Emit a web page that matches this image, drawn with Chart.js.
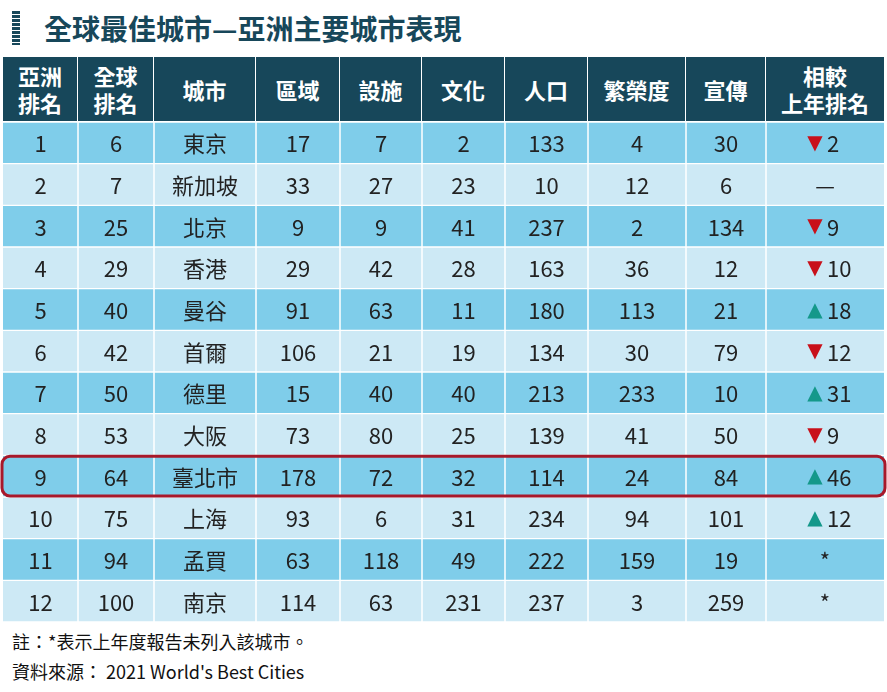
<!DOCTYPE html>
<html><head><meta charset="utf-8">
<script src="https://cdn.jsdelivr.net/npm/chart.js@4"></script>
<style>
body{margin:0;width:887px;height:692px;background:#fff;font-family:"Noto Sans CJK TC","Noto Sans",sans-serif;position:relative;overflow:hidden}
#title{position:absolute;left:12px;top:8px;height:40px;display:flex;align-items:center;font-size:28px;font-weight:bold;color:#17475a}
#title span.bar{display:inline-block;width:8px;height:34px;margin-right:24px;background:repeating-linear-gradient(#17475a 0 3px,#fff 3px 4px)}
#head{position:absolute;left:3px;top:57px;width:881px;height:64px;background:#17475a;display:flex;color:#fff;font-size:22px;font-weight:bold}
#head div{display:flex;align-items:center;justify-content:center;text-align:center;line-height:27px;border-right:1px solid #fff;box-sizing:border-box}
#head div:last-child{border-right:none}
#wrap{position:absolute;left:0;top:122px;width:887px;height:500px}
#foot{position:absolute;left:12px;top:626px;font-size:18px;color:#111;line-height:30px}
</style></head><body>
<div id="title"><span class="bar"></span>全球最佳城市—亞洲主要城市表現</div>
<div id="head"></div>
<div id="wrap"><canvas id="c"></canvas></div>
<div id="foot">註：*表示上年度報告未列入該城市。<br>資料來源： 2021 World's Best Cities</div>
<script>
const headers = ['亞洲<br>排名', '全球<br>排名', '城市', '區域', '設施', '文化', '人口', '繁榮度', '宣傳', '相較<br>上年排名'];
const edges = [3, 78, 154, 256, 340, 422, 505, 588, 686, 766, 884];
const asiaRank = [1, 2, 3, 4, 5, 6, 7, 8, 9, 10, 11, 12];
const globalRank = [6, 7, 25, 29, 40, 42, 50, 53, 64, 75, 94, 100];
const cities = ['東京', '新加坡', '北京', '香港', '曼谷', '首爾', '德里', '大阪', '臺北市', '上海', '孟買', '南京'];
const region = [17, 33, 9, 29, 91, 106, 15, 73, 178, 93, 63, 114];
const facilities = [7, 27, 9, 42, 63, 21, 40, 80, 72, 6, 118, 63];
const culture = [2, 23, 41, 28, 11, 19, 40, 25, 32, 31, 49, 231];
const population = [133, 10, 237, 163, 180, 134, 213, 139, 114, 234, 222, 237];
const prosperity = [4, 12, 2, 36, 113, 30, 233, 41, 24, 94, 159, 3];
const promotion = [30, 6, 134, 12, 21, 79, 10, 50, 84, 101, 19, 259];
const change = ['▼2', '—', '▼9', '▼10', '▲18', '▼12', '▲31', '▼9', '▲46', '▲12', '*', '*'];
const highlightRow = 8;

const head = document.getElementById('head');
headers.forEach((h, i) => {
    const d = document.createElement('div');
    d.style.width = (edges[i + 1] - edges[i]) + 'px';
    d.innerHTML = h;
    head.appendChild(d);
});

const columns = [asiaRank, globalRank, cities, region, facilities, culture, population, prosperity, promotion, change];

const tablePlugin = {
    id: 'tableText',
    afterDatasetsDraw(chart) {
        const ctx = chart.ctx;
        const xs = chart.scales.x, ys = chart.scales.y;
        const top = ys.top, bottom = ys.bottom;
        ctx.save();
        ctx.strokeStyle = '#fff';
        ctx.lineWidth = 1.5;
        edges.slice(1, -1).forEach(e => {
            const x = xs.getPixelForValue(e);
            ctx.beginPath(); ctx.moveTo(x, top); ctx.lineTo(x, bottom); ctx.stroke();
        });
        ctx.font = '22px "Noto Sans CJK TC", "Noto Sans", sans-serif';
        ctx.textAlign = 'center';
        ctx.textBaseline = 'middle';
        cities.forEach((c, r) => {
            const y = ys.getPixelForValue(r) + 1;
            columns.forEach((col, ci) => {
                const x = xs.getPixelForValue((edges[ci] + edges[ci + 1]) / 2);
                const v = String(col[r]);
                if (ci === 9 && (v[0] === '▼' || v[0] === '▲')) {
                    const num = v.slice(1);
                    ctx.font = '20px "DejaVu Sans", sans-serif';
                    ctx.fillStyle = v[0] === '▼' ? '#c8101a' : '#14988a';
                    ctx.fillText(v[0], x - 10, y);
                    ctx.font = '22px "Noto Sans CJK TC", "Noto Sans", sans-serif';
                    ctx.fillStyle = '#222';
                    ctx.textAlign = 'left';
                    ctx.fillText(num, x + 2, y);
                    ctx.textAlign = 'center';
                } else {
                    ctx.fillStyle = '#222';
                    ctx.fillText(v, x, y);
                }
            });
        });
        const yc = ys.getPixelForValue(highlightRow);
        const h = (bottom - top) / cities.length;
        ctx.strokeStyle = '#a8182a';
        ctx.lineWidth = 3;
        ctx.beginPath();
        ctx.roundRect(xs.getPixelForValue(edges[0]) - 1, yc - h / 2 + 1, xs.getPixelForValue(edges[10]) - xs.getPixelForValue(edges[0]) + 2, h - 2, 8);
        ctx.stroke();
        ctx.restore();
    }
};

new Chart(document.getElementById('c'), {
    type: 'bar',
    data: {
        labels: cities,
        datasets: [{
            data: cities.map(() => [edges[0], edges[10]]),
            backgroundColor: cities.map((c, i) => i % 2 === 0 ? '#7fcdea' : '#cde9f5'),
            borderColor: '#fff',
            borderWidth: {top: 1, bottom: 1, left: 0, right: 0},
            borderSkipped: false,
            barPercentage: 1,
            categoryPercentage: 1
        }]
    },
    options: {
        indexAxis: 'y',
        responsive: true,
        maintainAspectRatio: false,
        animation: false,
        layout: {padding: 0},
        scales: {
            x: {type: 'linear', min: 0, max: 887, display: false},
            y: {display: false}
        },
        plugins: {legend: {display: false}, tooltip: {enabled: false}}
    },
    plugins: [tablePlugin]
});
</script>
</body></html>
